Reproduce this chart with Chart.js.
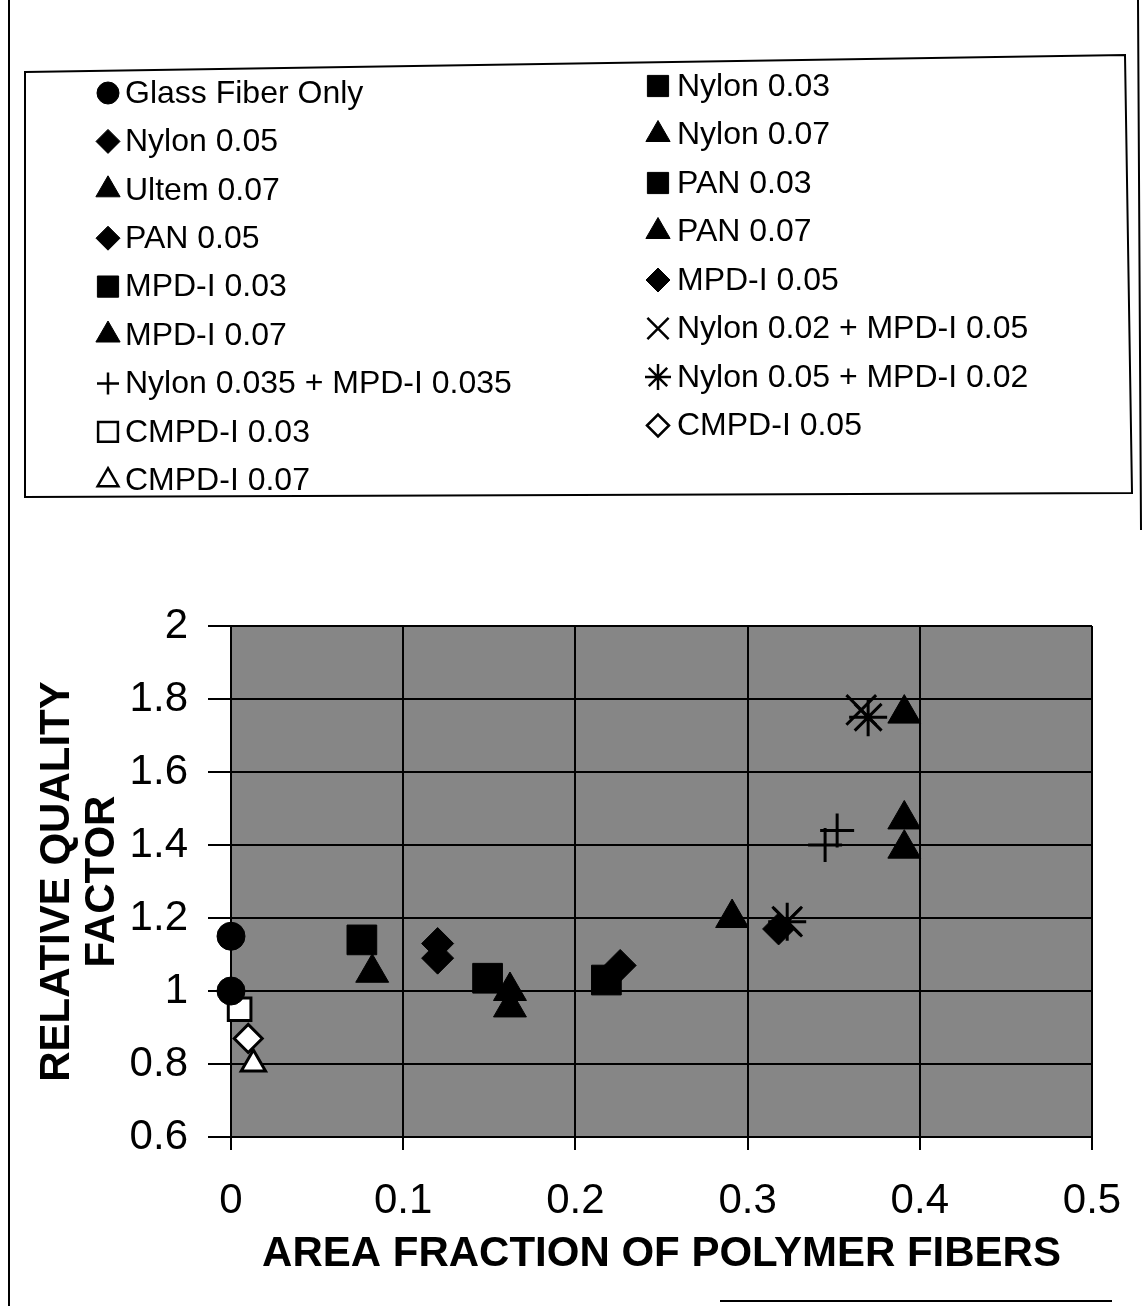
<!DOCTYPE html>
<html>
<head>
<meta charset="utf-8">
<script src="https://cdn.jsdelivr.net/npm/chart.js@4.4.1/dist/chart.umd.min.js"></script>
<style>
  html, body { margin: 0; padding: 0; background: #ffffff; }
  #wrap { position: relative; width: 1143px; height: 1306px; }
</style>
</head>
<body>
<div id="wrap"><canvas id="c" width="1143" height="1306"></canvas></div>
<script>
// ---- data ----
const seriesNames = [
  'Glass Fiber Only', 'Nylon 0.03', 'Nylon 0.05', 'Nylon 0.07', 'Ultem 0.07',
  'PAN 0.03', 'PAN 0.05', 'PAN 0.07', 'MPD-I 0.03', 'MPD-I 0.05', 'MPD-I 0.07',
  'Nylon 0.02 + MPD-I 0.05', 'Nylon 0.035 + MPD-I 0.035', 'Nylon 0.05 + MPD-I 0.02',
  'CMPD-I 0.03', 'CMPD-I 0.05', 'CMPD-I 0.07'
];
const glassX = [0, 0],            glassY = [1.15, 1.00];
const nylon03X = [0.076],         nylon03Y = [1.14];
const nylon05X = [0.120],         nylon05Y = [1.13];
const nylon07X = [0.082],         nylon07Y = [1.05];
const ultem07X = [0.162, 0.391],  ultem07Y = [1.00, 1.39];
const pan03X = [0.149],           pan03Y = [1.035];
const pan05X = [0.120],           pan05Y = [1.09];
const pan07X = [0.162],           pan07Y = [0.955];
const mpd03X = [0.218],           mpd03Y = [1.03];
const mpd05X = [0.226, 0.318],    mpd05Y = [1.07, 1.17];
const mpd07X = [0.291, 0.391, 0.391], mpd07Y = [1.20, 1.76, 1.47];
const n02m05X = [0.366, 0.323],   n02m05Y = [1.77, 1.19];
const n035m035X = [0.345, 0.352], n035m035Y = [1.40, 1.44];
const n05m02X = [0.370, 0.323],   n05m02Y = [1.75, 1.19];
const cmpd03X = [0.005],          cmpd03Y = [0.95];
const cmpd05X = [0.010],          cmpd05Y = [0.87];
const cmpd07X = [0.013],          cmpd07Y = [0.80];

const xTickLabels = ['0', '0.1', '0.2', '0.3', '0.4', '0.5'];
const yTickLabels = ['0.6', '0.8', '1', '1.2', '1.4', '1.6', '1.8', '2'];
const xTitle = 'AREA FRACTION OF POLYMER FIBERS';
const yTitle = ['RELATIVE QUALITY', 'FACTOR'];

// ---- styles ----
const xs = [glassX, nylon03X, nylon05X, nylon07X, ultem07X, pan03X, pan05X, pan07X,
            mpd03X, mpd05X, mpd07X, n02m05X, n035m035X, n05m02X, cmpd03X, cmpd05X, cmpd07X];
const ys = [glassY, nylon03Y, nylon05Y, nylon07Y, ultem07Y, pan03Y, pan05Y, pan07Y,
            mpd03Y, mpd05Y, mpd07Y, n02m05Y, n035m035Y, n05m02Y, cmpd03Y, cmpd05Y, cmpd07Y];
const styles = [
  {s:'circle', r:14, lr:11, fill:true},
  {s:'rect', r:21, lr:15, fill:true},
  {s:'rectRot', r:16, lr:12, fill:true},
  {s:'triangle', r:19, lr:14, fill:true},
  {s:'triangle', r:19, lr:14, fill:true},
  {s:'rect', r:21, lr:15, fill:true},
  {s:'rectRot', r:16, lr:12, fill:true},
  {s:'triangle', r:19, lr:14, fill:true},
  {s:'rect', r:21, lr:15, fill:true},
  {s:'rectRot', r:16, lr:12, fill:true},
  {s:'triangle', r:19, lr:14, fill:true},
  {s:'crossRot', r:21, lr:15, fill:false},
  {s:'cross', r:17, lr:11, fill:false},
  {s:'star', r:19, lr:13, fill:false},
  {s:'rect', r:16, lr:14, fill:false, open:true},
  {s:'rectRot', r:14, lr:11, fill:false, open:true},
  {s:'triangle', r:14, lr:12, fill:false, open:true}
];

const datasets = seriesNames.map((name, i) => ({
  label: name,
  data: xs[i].map((x, k) => ({x: x, y: ys[i][k]})),
  pointStyle: styles[i].s,
  pointRadius: styles[i].r,
  pointBackgroundColor: styles[i].open ? '#ffffff' : '#000000',
  pointBorderColor: '#000000',
  pointBorderWidth: styles[i].fill ? 1 : 3,
  showLine: false,
  clip: false
}));

// plot background + frame + custom two-column legend
const decor = {
  id: 'decor',
  beforeDraw(chart) {
    const {ctx, chartArea: a} = chart;
    ctx.save();
    ctx.fillStyle = '#868686';
    ctx.fillRect(a.left, a.top, a.right - a.left, a.bottom - a.top);
    ctx.restore();
  },
  afterDraw(chart) {
    const ctx = chart.ctx;
    ctx.save();
    ctx.strokeStyle = '#000';
    ctx.lineWidth = 2;
    // outer frame fragments
    ctx.beginPath();
    ctx.moveTo(9, 0); ctx.lineTo(9, 1306);
    ctx.moveTo(1138, 0); ctx.lineTo(1141, 530);
    ctx.moveTo(720, 1301); ctx.lineTo(1112, 1301);
    ctx.stroke();
    // legend box (slightly skewed like the scan)
    ctx.beginPath();
    ctx.moveTo(25, 72); ctx.lineTo(1125, 55); ctx.lineTo(1132, 493); ctx.lineTo(25, 497);
    ctx.closePath();
    ctx.stroke();
    // legend entries
    ctx.font = '32px "Liberation Sans", Arial, sans-serif';
    ctx.textBaseline = 'middle';
    ctx.textAlign = 'left';
    let li = 0, ri = 0;
    seriesNames.forEach((name, i) => {
      const leftCol = i % 2 === 0;
      let mx, tx, y;
      if (leftCol) { mx = 108; tx = 125; y = 93 + 48.4 * li; li++; }
      else { mx = 658; tx = 677; y = 86 + 48.5 * ri; ri++; }
      const st = styles[i];
      ctx.fillStyle = st.open ? '#fff' : '#000';
      ctx.strokeStyle = '#000';
      ctx.lineWidth = st.fill ? 1 : 2.5;
      Chart.helpers.drawPoint(ctx, {pointStyle: st.s, radius: st.lr, rotation: 0, borderWidth: ctx.lineWidth}, mx, y);
      ctx.fillStyle = '#000';
      ctx.fillText(name, tx, y + 1);
    });
    ctx.restore();
  }
};

new Chart(document.getElementById('c'), {
  type: 'scatter',
  data: { datasets },
  options: {
    responsive: false,
    animation: false,
    devicePixelRatio: 1,
    layout: { autoPadding: false, padding: { top: 626, right: 51, bottom: 0, left: 0 } },
    plugins: { legend: { display: false }, tooltip: { enabled: false } },
    scales: {
      x: {
        type: 'linear', min: 0, max: 0.5,
        afterFit(scale) { scale.height = 169; scale.paddingLeft = 0; scale.paddingRight = 0; },
        ticks: {
          stepSize: 0.1,
          color: '#000',
          font: { family: '"Liberation Sans", Arial, sans-serif', size: 42 },
          padding: 26,
          maxRotation: 0,
          callback: (v, i) => xTickLabels[i]
        },
        grid: { color: '#000', lineWidth: 2, tickLength: 13, drawTicks: true },
        border: { color: '#000', width: 2 },
        title: {
          display: true, text: xTitle, color: '#000',
          font: { family: '"Liberation Sans", Arial, sans-serif', size: 42, weight: 'bold' },
          padding: { top: 0, bottom: 26 }
        }
      },
      y: {
        type: 'linear', min: 0.6, max: 2,
        afterFit(scale) { scale.width = 231; scale.paddingTop = 0; scale.paddingBottom = 0; },
        ticks: {
          stepSize: 0.2,
          color: '#000',
          font: { family: '"Liberation Sans", Arial, sans-serif', size: 42 },
          padding: 20,
          callback: (v, i) => yTickLabels[i]
        },
        grid: { color: '#000', lineWidth: 2, tickLength: 23, drawTicks: true },
        border: { color: '#000', width: 2 },
        title: {
          display: true, text: yTitle, color: '#000',
          font: { family: '"Liberation Sans", Arial, sans-serif', size: 42, weight: 'bold', lineHeight: 1.07 },
          padding: { top: 35, bottom: 0 }
        }
      }
    }
  },
  plugins: [decor]
});
</script>
</body>
</html>
